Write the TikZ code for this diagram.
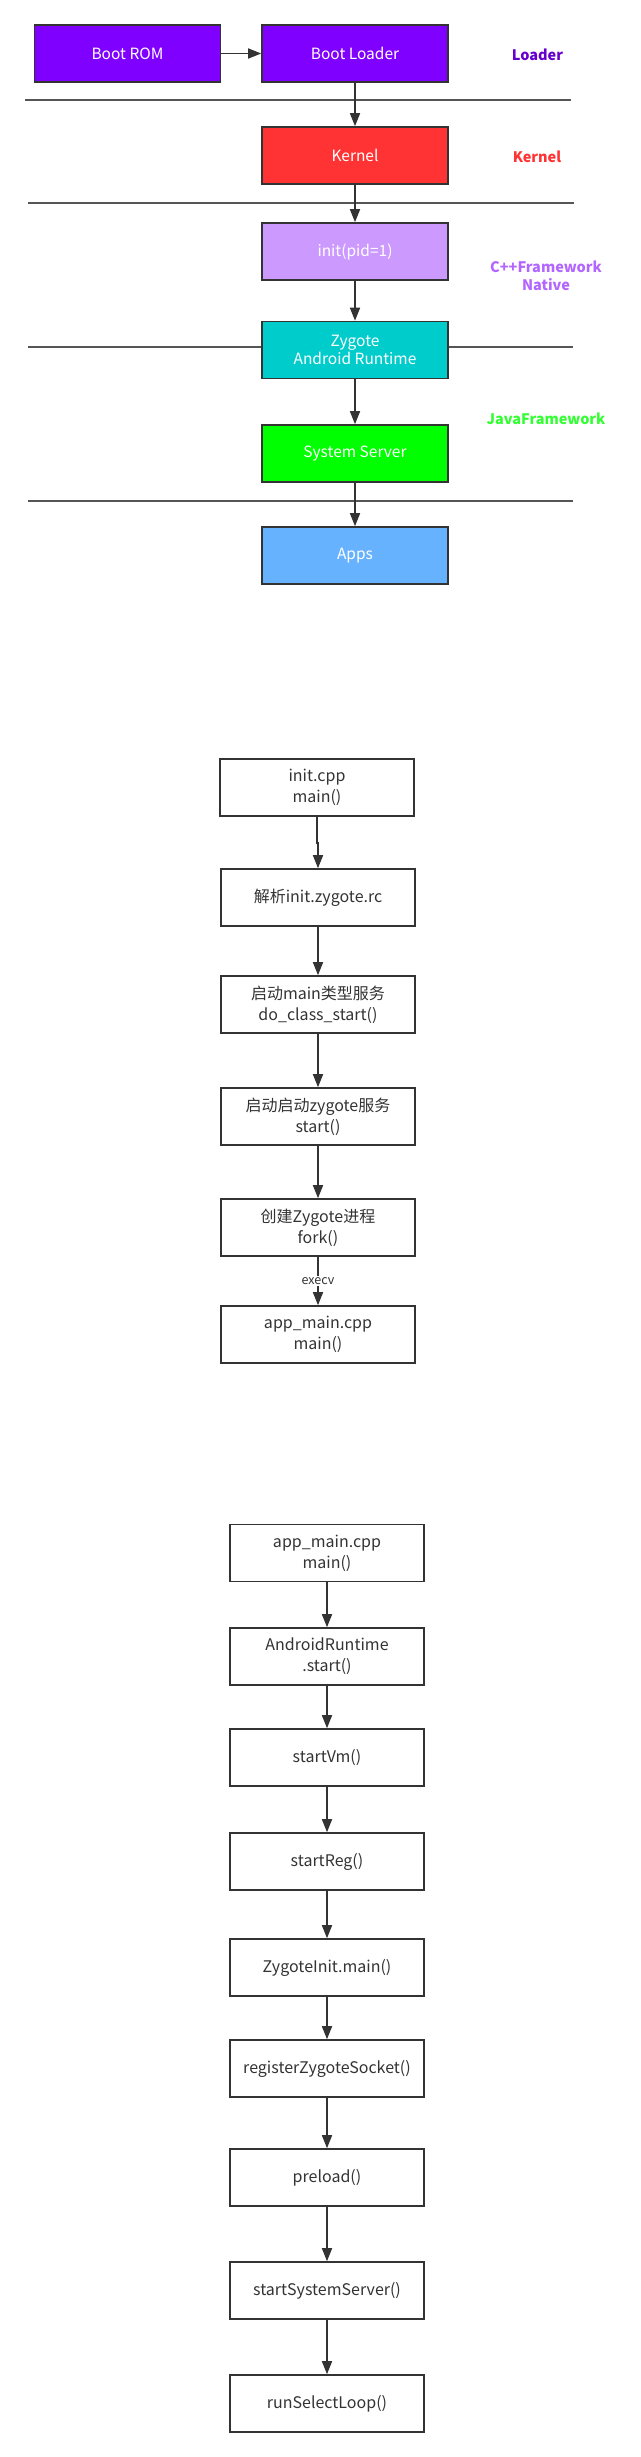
\documentclass[tikz,border=0pt]{standalone}
\usepackage{fontspec}
\setmainfont{Noto Sans CJK SC}
\usetikzlibrary{arrows.meta}
\definecolor{ink}{HTML}{333333}
\definecolor{sepc}{HTML}{555555}
\definecolor{cpurple}{HTML}{7F00FF}
\definecolor{lpurple}{HTML}{6600CC}
\definecolor{cred}{HTML}{FF3333}
\definecolor{clilac}{HTML}{CC99FF}
\definecolor{llilac}{HTML}{B266FF}
\definecolor{ccyan}{HTML}{00CCCC}
\definecolor{cgreen}{HTML}{00FF00}
\definecolor{lgreen}{HTML}{33FF33}
\definecolor{cblue}{HTML}{66B2FF}
\begin{document}
\begin{tikzpicture}[x=1pt,y=-1pt,
  topbox/.style={draw=ink, line width=1.6pt, minimum width=186pt, minimum height=57pt, inner sep=0pt, text=white, font=\fontsize{15.5}{18}\selectfont, align=center},
  flowbox/.style={draw=ink, line width=1.6pt, minimum width=194pt, minimum height=57pt, inner sep=0pt, text=ink, font=\fontsize{16}{21}\selectfont, align=center},
  lvl/.style={font=\fontsize{14.5}{18}\selectfont\bfseries, align=center, inner sep=0pt},
  arr/.style={draw=ink, line width=1.6pt, -{Triangle[length=13pt,width=10pt]}},
  sepline/.style={draw=sepc, line width=1.8pt},
  elabel/.style={fill=white, text=ink, font=\fontsize{12.5}{14}\selectfont, inner sep=1.5pt}
]
\useasboundingbox (0,0) rectangle (640,2457);

% ---------- section 1 ----------
\coordinate (s1a) at (25,100);  \coordinate (s1b) at (571,100);
\coordinate (s2a) at (28,203);  \coordinate (s2b) at (574,203);
\coordinate (s3a) at (28,347);  \coordinate (s3b) at (573,347);
\coordinate (s4a) at (28,501);  \coordinate (s4b) at (573,501);
\draw[sepline] (s1a) -- (s1b);
\draw[sepline] (s2a) -- (s2b);
\draw[sepline] (s3a) -- (s3b);
\draw[sepline] (s4a) -- (s4b);

\node[topbox, fill=cpurple] (rom) at (127.5,53.5) {Boot ROM};
\node[topbox, fill=cpurple] (loader) at (355,53.5) {Boot Loader};
\node[topbox, fill=cred] (kernel) at (355,155.5) {Kernel};
\node[topbox, fill=clilac] (init) at (355,251.5) {init(pid=1)};
\node[topbox, fill=ccyan] (zygote) at (355,350) {Zygote\\Android Runtime};
\node[topbox, fill=cgreen] (ss) at (355,453.5) {System Server};
\node[topbox, fill=cblue] (apps) at (355,555.5) {Apps};

\node[lvl, text=lpurple] (lloader) at (537.5,54.5) {Loader};
\node[lvl, text=cred] (lkernel) at (537,157) {Kernel};
\node[lvl, text=llilac] (lnative) at (546,276) {C++Framework\\Native};
\node[lvl, text=lgreen] (ljava) at (546,419) {JavaFramework};

\draw[arr] (rom) -- (loader);
\draw[arr] (loader) -- (kernel);
\draw[arr] (kernel) -- (init);
\draw[arr] (init) -- (zygote);
\draw[arr] (zygote) -- (ss);
\draw[arr] (ss) -- (apps);

% ---------- section 2 ----------
\node[flowbox] (initcpp) at (317,787.5) {init.cpp\\main()};
\node[flowbox] (parse) at (318,897.5) {解析init.zygote.rc};
\node[flowbox] (doclass) at (318,1004.5) {启动main类型服务\\do\_class\_start()};
\node[flowbox] (startz) at (318,1116.5) {启动启动zygote服务\\start()};
\node[flowbox] (fork) at (318,1227.5) {创建Zygote进程\\fork()};
\node[flowbox] (appmain) at (318,1334.5) {app\_main.cpp\\main()};

\draw[arr] (initcpp.south) -- ++(0,26) -| (parse.north);
\draw[arr] (parse) -- (doclass);
\draw[arr] (doclass) -- (startz);
\draw[arr] (startz) -- (fork);
\draw[arr] (fork) -- node[elabel, pos=0.5] {execv} (appmain);

% ---------- section 3 ----------
\node[flowbox] (b1) at (327,1553) {app\_main.cpp\\main()};
\node[flowbox] (b2) at (327,1656.5) {AndroidRuntime\\.start()};
\node[flowbox] (b3) at (327,1757.5) {startVm()};
\node[flowbox] (b4) at (327,1861.5) {startReg()};
\node[flowbox] (b5) at (327,1967.5) {ZygoteInit.main()};
\node[flowbox] (b6) at (327,2068.5) {registerZygoteSocket()};
\node[flowbox] (b7) at (327,2177.5) {preload()};
\node[flowbox] (b8) at (327,2290.5) {startSystemServer()};
\node[flowbox] (b9) at (327,2403.5) {runSelectLoop()};

\foreach \a/\b in {b1/b2,b2/b3,b3/b4,b4/b5,b5/b6,b6/b7,b7/b8,b8/b9}
  \draw[arr] (\a) -- (\b);
\end{tikzpicture}
\end{document}
